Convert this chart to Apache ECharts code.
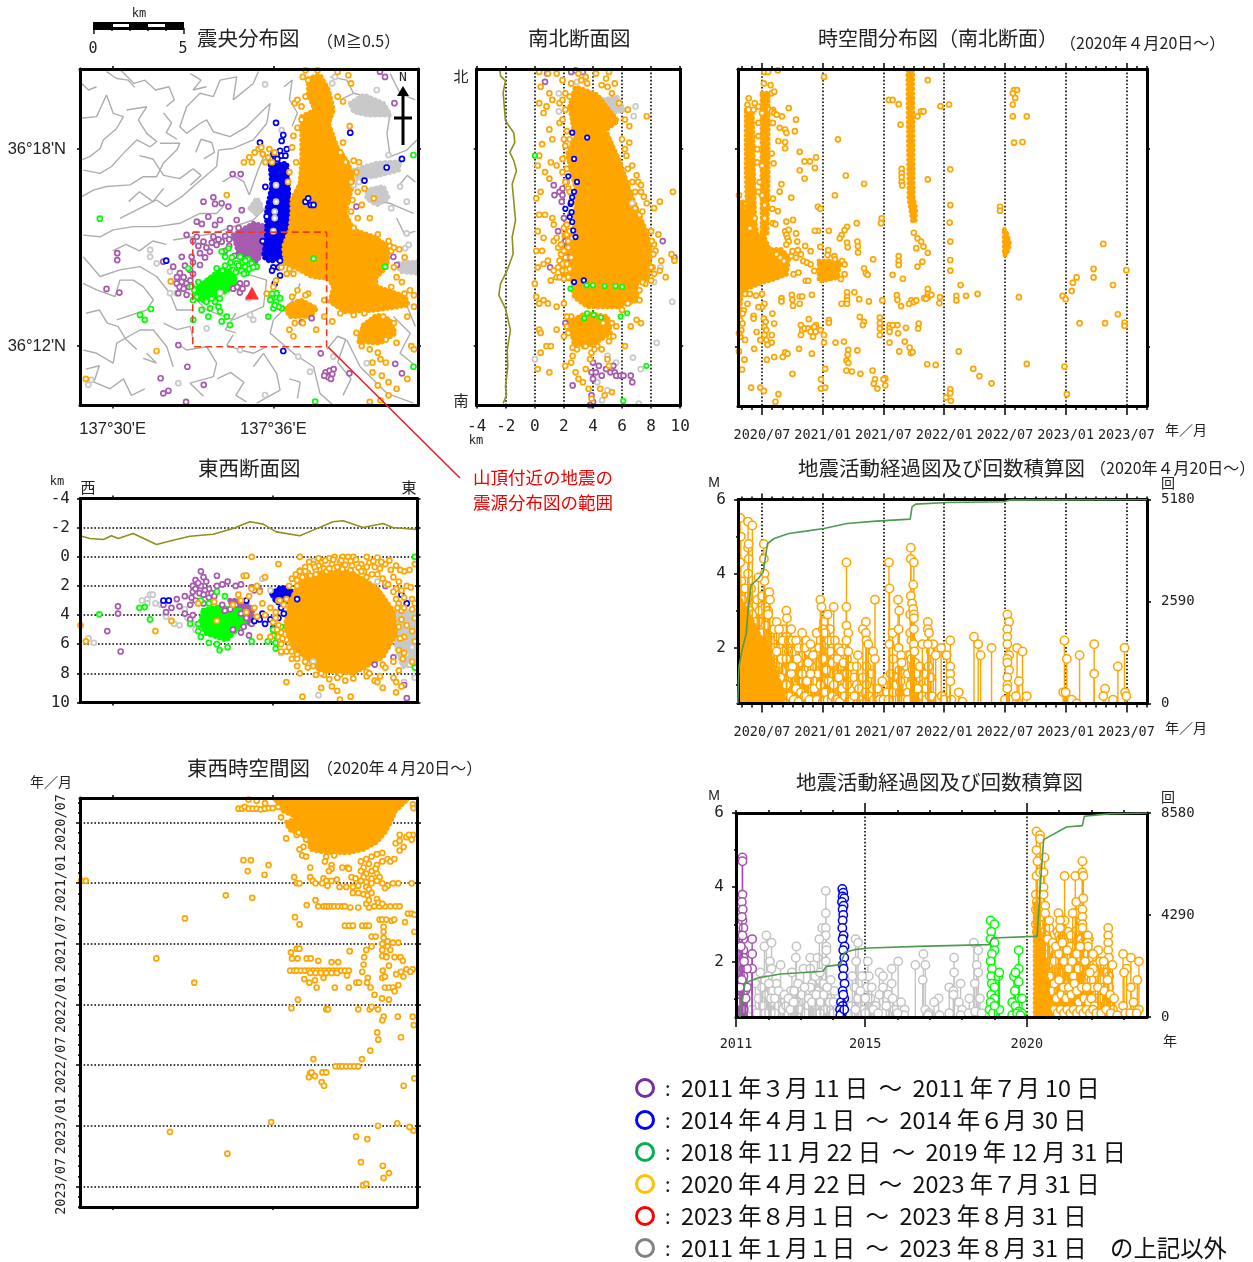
<!DOCTYPE html>
<html><head><meta charset="utf-8">
<style>html,body{margin:0;padding:0;background:#fff}#c{width:1253px;height:1262px}</style>
<script src="https://cdn.jsdelivr.net/npm/echarts@6/dist/echarts.min.js"></script>
</head><body><div id="c"></div>
<script>
// ---------- shared tick values ----------
const halfYears=[2020.5,2021,2021.5,2022,2022.5,2023,2023.5];
const sectionDepths=[-4,-2,0,2,4,6,8,10];
const lonTicks=[30,36];
const latTicks=[12,18];
const magnitudes=[2,4,6];
const minorMagnitudes=[1,3,5];
const countTicks1=[0,2590,5180];
const countTicks2=[0,4290,8580];
const yearLabels=[2011,2015,2020];
const allYears=[2011,2012,2013,2014,2015,2016,2017,2018,2019,2020,2021,2022,2023];

// ---------- map (lon minutes past 137deg, lat minutes past 36deg) ----------
const contours=[
[[29.77,20.36],[30.15,20.15],[30.58,20.1],[30.83,19.88]],
[[28.84,18.94],[29.4,18.99],[29.77,19.65],[30.02,19.09],[30.4,18.99],[30.15,18.63],[29.65,18.28],[29.53,18.02],[29.15,17.77],[28.84,17.67]],
[[30.52,19.19],[31.27,19.29],[30.96,18.89],[31.27,18.48],[31.64,18.23],[31.4,18.07],[30.9,18.28],[30.4,17.87],[29.96,17.47],[29.53,17.26],[28.9,17.36]],
[[28.84,16.55],[29.28,16.75],[29.77,16.86],[30.65,16.91],[31.14,17.16],[31.64,17.16],[31.89,17.57],[32.39,17.97],[32.51,18.18],[31.77,18.18]],
[[30.27,15.89],[31.14,16.25],[31.64,16.45],[32.0,16.25],[32.58,16.55],[33.01,16.86],[33.88,17.47],[33.95,17.97],[34.5,18.02],[35.25,18.28],[35.75,18.78],[35.88,19.39],[35.5,19.09],[35.0,18.68],[34.38,18.38],[33.76,18.53],[33.51,18.89],[33.26,18.78],[32.76,18.48],[32.51,18.68],[32.76,19.29],[33.26,19.7],[33.76,19.6],[34.01,20.1],[34.63,20.2],[34.5,19.5],[35.25,20.0],[35.44,20.36]],
[[28.9,15.38],[29.53,15.33],[30.02,15.54],[30.77,15.64],[31.64,15.64],[32.51,15.74],[33.26,16.04],[33.88,16.04],[34.13,16.25]],
[[28.9,13.91],[29.4,13.71],[30.09,13.51],[30.27,14.01],[30.77,14.01],[31.14,13.81],[31.52,13.41],[31.27,13.1],[30.15,12.8]],
[[28.9,14.72],[29.53,14.12],[30.27,14.32],[31.02,14.42],[31.64,14.12],[32.14,13.61],[32.39,13.1],[33.01,13.1]],
[[28.9,11.88],[29.4,11.78],[30.02,11.48],[30.15,12.09],[31.02,12.49],[31.52,12.49],[32.02,11.98],[32.26,11.37]],
[[31.14,11.63],[31.64,11.48],[31.27,11.78]],
[[34.5,12.34],[34.26,12.03],[34.76,11.88],[35.25,11.78],[35.75,11.98]],
[[32.39,12.09],[32.76,11.88],[33.51,11.98],[33.88,11.48],[33.76,11.07],[32.89,10.87],[33.39,10.47]],
[[35.25,11.37],[35.63,11.78],[36.12,11.17],[36.25,10.66],[35.38,10.26]],
[[37.0,13.91],[36.75,13.41],[36.0,12.8],[35.88,12.39],[36.75,11.78],[37.5,11.37],[37.74,10.56],[38.24,10.2]],
[[38.99,19.7],[39.49,19.6],[40.36,19.09],[40.24,18.48],[40.36,17.77],[40.98,17.97],[41.36,18.28]],
[[39.49,16.45],[40.36,16.35],[41.23,16.04]],
[[32.26,15.23],[33.01,15.33],[33.76,15.43],[35.25,15.84],[35.75,16.25]],
[[38.12,20.2],[38.74,20.1],[38.99,19.7],[38.49,19.5]],
[[40.36,20.3],[40.73,19.7],[41.29,19.5]],
[[38.74,12.19],[39.24,11.37],[40.24,10.56],[41.23,10.26]],
[[40.48,12.9],[41.11,12.39],[40.73,11.78],[41.36,11.37]],
[[34.5,12.8],[35.63,13.2],[35.75,14.01],[35.0,14.2]],
[[32.89,13.61],[33.51,13.1],[34.5,12.8]],
[[28.84,20.0],[29.1,19.8],[29.4,19.9]],
[[30.3,20.4],[30.8,20.0],[31.2,20.1],[31.6,19.8],[32.1,19.9],[32.3,19.5],[32.0,19.3]],
[[32.9,20.3],[33.3,20.1],[33.0,19.8],[33.5,19.9]],
[[31.9,19.1],[32.2,18.8],[32.0,18.5],[32.4,18.3]],
[[31.0,17.8],[31.5,17.7],[31.9,17.2],[32.5,17.1],[33.0,17.4],[33.3,17.2],[32.9,16.9]],
[[30.6,16.4],[31.0,16.7],[31.5,16.4],[31.9,16.8]],
[[33.4,17.7],[33.8,17.9],[33.7,18.2],[33.3,18.3],[33.1,17.9]],
[[34.1,17.0],[34.5,17.2],[34.9,17.0],[35.1,16.6],[35.4,17.3],[35.7,17.9]],
[[30.0,14.9],[30.5,15.1],[31.0,14.9],[31.5,15.2],[32.0,15.1]],
[[29.0,13.0],[29.5,13.1],[29.8,12.7],[30.2,12.6],[30.5,12.2],[30.9,11.9]],
[[29.0,11.3],[29.5,11.4],[29.3,10.9],[29.9,10.7],[30.4,11.0],[30.7,10.5],[31.2,10.7]],
[[31.9,12.7],[32.4,12.5],[32.9,12.6],[33.0,12.2]],
[[34.6,13.0],[34.2,12.5],[34.6,12.4]],
[[33.9,11.0],[34.4,11.2],[34.9,10.9],[34.6,10.5],[35.0,10.3]],
[[36.6,11.0],[37.0,10.9],[36.9,10.4]],
[[38.0,11.9],[38.4,12.3],[38.7,12.2],[38.4,11.5],[38.9,11.0],[38.6,10.5]],
[[40.5,13.3],[41.0,13.2],[41.3,12.6]],
[[40.7,16.9],[41.0,17.2],[41.3,17.0]],
[[40.6,15.9],[40.9,15.4],[41.3,15.5]],
[[36.4,19.9],[36.7,20.1],[36.6,19.5],[36.9,19.1],[36.7,18.7]]
];
const mapOrangeCore=[[37.31,20.15],[37.74,20.26],[38.06,19.8],[38.24,19.19],[38.06,18.78],[38.37,18.07],[38.8,17.57],[38.99,17.01],[38.8,16.45],[38.68,16.04],[38.99,15.54],[39.74,15.33],[40.3,15.03],[40.24,14.42],[39.8,14.06],[39.86,13.81],[40.92,13.51],[41.04,13.25],[39.86,13.1],[38.68,13.05],[38.12,13.35],[38.24,13.81],[38.06,14.06],[37.43,14.12],[36.87,14.37],[36.44,14.52],[36.38,15.03],[36.62,15.54],[36.69,16.04],[36.69,16.45],[37.0,16.96],[37.06,17.67],[37.06,18.38],[37.06,18.99],[37.56,19.19],[37.31,19.65]];
const mapOrangeSouth=[[39.36,12.64],[39.86,12.95],[40.36,12.8],[40.55,12.39],[39.98,12.09],[39.18,12.14]];
const mapOrangeMid=[[36.44,13.15],[37.0,13.41],[37.62,13.15],[37.37,12.9],[36.62,12.9]];
const mapBlueCore=[[35.88,17.52],[36.5,17.57],[36.56,16.86],[36.62,15.94],[36.5,15.23],[36.37,14.72],[35.88,14.57],[35.63,14.72],[35.75,15.43],[35.75,16.14],[35.94,16.86]];
const mapPurpleCore=[[34.5,15.38],[35.25,15.74],[35.75,15.64],[35.69,15.03],[35.38,14.57],[34.76,14.62],[34.63,15.03]];
const mapGreenCore=[[33.1,13.75],[33.5,14.0],[33.9,14.25],[34.5,14.3],[34.6,13.95],[34.3,13.7],[33.95,13.55],[33.5,13.35],[33.1,13.45]];
const mapGrayPatches=[
[[38.87,19.39],[39.37,19.65],[40.11,19.39],[40.36,19.04],[39.49,19.04],[38.99,19.14]],
[[38.99,17.36],[39.86,17.57],[40.73,17.62],[40.67,17.36],[39.74,17.16],[39.12,17.16]],
[[35.13,16.2],[35.38,16.5],[35.57,16.25],[35.38,16.0]],
[[39.49,16.75],[40.11,16.86],[40.3,16.5],[39.86,16.3],[39.49,16.5]],
[[40.67,14.52],[41.4,14.57],[41.4,14.22],[40.73,14.27]]
];
const mapGray=[[35.69,19.97],[39.86,19.8],[36.31,18.58],[40.3,17.82],[40.73,16.86],[40.98,16.4],[32.14,14.27],[31.64,14.52],[31.4,14.72],[31.4,14.93],[32.14,13.61],[32.39,13.61],[35.07,13.46],[35.13,12.95],[35.25,12.8],[34.76,11.88],[33.51,12.54],[34.01,13.61],[29.2,10.97],[29.09,10.82],[32.45,10.87],[35.69,10.51],[36.93,11.68],[37.37,11.22],[38.24,11.68],[39.49,11.48],[40.98,15.43],[40.92,14.98],[41.05,15.08],[38.2,20.0],[38.3,20.2],[39.0,16.9],[39.2,17.0],[40.4,16.2],[36.1,16.4],[36.05,15.9],[36.1,16.9],[36.0,15.5],[36.05,16.1]];
const mapPurple=[[34.48,17.24],[34.78,17.24],[33.39,16.4],[33.76,16.53],[33.82,16.33],[34.07,16.35],[34.32,16.25],[33.57,15.94],[33.14,15.79],[33.33,15.72],[33.82,15.69],[34.01,15.84],[34.63,15.84],[34.82,16.14],[34.38,15.59],[32.76,15.39],[33.14,15.33],[33.39,15.18],[33.76,15.33],[34.07,15.18],[33.26,14.83],[33.63,14.88],[33.88,15.08],[32.95,14.72],[32.58,14.72],[31.89,14.57],[32.26,14.42],[32.51,14.22],[33.26,14.47],[32.89,14.32],[32.58,13.96],[32.39,13.91],[32.76,13.91],[32.45,13.61],[32.76,13.56],[30.17,14.83],[30.17,14.62],[29.77,13.74],[30.25,13.63],[32.45,12.03],[32.79,11.37],[31.79,11.02],[33.4,10.82],[31.89,10.56],[32.08,10.64],[32.74,10.3],[34.75,13.91],[35.0,13.91],[34.75,13.63],[37.06,12.72],[37.43,12.85],[37.77,11.78],[38.84,11.17],[37.95,11.2],[38.1,11.25],[38.2,11.15],[38.05,11.05],[38.15,11.0],[37.9,11.1],[38.25,11.3],[40.48,14.72],[40.61,14.47],[39.98,20.36],[40.17,20.2],[40.52,19.4],[40.55,11.46],[40.8,11.17],[39.1,16.25],[33.0,15.2],[33.2,15.05],[33.5,15.0],[33.7,15.15],[33.95,15.25],[34.2,15.35],[34.35,15.05],[34.2,14.9],[33.45,14.7],[33.0,14.55],[32.7,14.45],[32.4,14.1],[32.65,14.1],[32.9,14.0],[33.0,14.2],[32.5,13.8],[32.65,13.75],[32.85,13.8],[34.5,13.75],[34.65,13.8],[34.85,13.75],[34.55,14.75],[34.35,15.25],[34.7,15.6]];
const mapBlue=[[36.1,18.8],[36.37,18.43],[36.31,18.25],[35.5,18.2],[36.5,18.0],[36.25,17.95],[38.87,18.5],[40.8,17.7],[40.23,17.44],[39.4,17.04],[36.0,14.4],[36.2,14.4],[36.25,14.15],[36.05,13.9],[36.37,11.85],[32.0,14.6],[36.0,17.85],[36.15,17.7],[36.3,17.8],[36.45,17.8],[35.9,17.7],[35.7,16.85],[35.75,15.95],[35.6,15.2],[36.25,14.6],[35.95,14.3],[37.2,16.4],[37.4,16.3],[37.3,16.5],[37.5,16.3]];
const mapGreen=[[29.52,15.88],[31.02,12.95],[31.2,12.8],[31.43,13.13],[33.01,12.8],[33.32,13.1],[33.64,13.15],[33.95,13.2],[33.57,12.9],[34.07,12.75],[34.26,12.9],[34.38,12.64],[33.82,13.35],[34.01,13.05],[32.82,14.37],[32.95,13.81],[33.14,13.5],[33.88,14.37],[34.32,14.98],[34.07,14.88],[34.2,14.72],[34.63,14.52],[34.94,14.42],[35.19,14.52],[35.38,14.42],[34.76,14.72],[35.0,14.22],[34.5,14.32],[35.94,13.51],[36.12,13.61],[35.88,13.41],[36.25,13.46],[36.0,13.15],[36.31,13.15],[35.81,12.9],[41.23,17.82],[37.56,10.31],[37.5,14.67],[40.17,14.42],[41.23,11.37],[34.4,14.55],[34.3,14.4],[34.85,14.55],[35.05,14.65],[34.2,14.45],[34.1,14.3],[34.45,14.7],[34.6,14.25],[34.8,14.3],[36.1,13.35],[36.2,13.2],[33.2,13.95],[33.05,13.7],[33.0,13.4],[33.5,13.35],[33.7,13.45],[34.0,13.45],[34.7,14.45],[34.9,14.2],[35.1,14.35],[35.25,14.4],[34.95,14.6],[36.05,13.25],[35.95,13.6]];
const mapOrange=[[34.9,17.6],[35.1,17.75],[35.3,17.9],[35.45,18.0],[35.6,17.85],[35.55,18.05],[35.8,17.75],[35.95,17.6],[36.05,17.9],[35.7,17.6],[35.2,17.6],[35.85,18.0],[36.8,19.4],[36.9,19.5],[37.05,19.3],[37.2,19.6],[37.3,20.1],[37.1,20.2],[38.4,20.35],[38.8,20.25],[38.9,20.0],[38.4,19.6],[38.6,19.45],[37.05,18.9],[36.9,18.65],[36.75,18.4],[36.7,18.05],[36.85,17.6],[36.6,17.3],[36.55,17.0],[38.85,18.7],[38.6,18.2],[39.2,17.6],[39.1,17.3],[39.4,16.8],[39.75,16.5],[39.3,16.3],[39.6,15.9],[39.15,15.9],[38.9,16.1],[39.0,15.6],[40.35,15.05],[40.7,14.95],[40.9,14.7],[40.5,14.4],[40.8,13.95],[40.4,13.8],[41.1,13.7],[41.25,13.55],[41.25,13.2],[40.1,12.9],[41.0,12.9],[40.5,12.7],[40.2,12.2],[39.9,11.8],[39.7,11.5],[40.2,11.5],[40.05,11.1],[39.9,10.8],[40.3,10.9],[40.6,10.7],[40.3,10.5],[41.0,11.0],[40.6,12.1],[41.15,12.0],[40.0,10.35],[39.6,10.3],[41.25,11.9],[36.0,13.8],[35.75,13.6],[36.9,13.7],[36.7,13.5],[37.3,13.6],[36.8,12.7],[36.6,12.5],[36.75,12.3],[37.1,12.7],[37.6,12.5],[38.2,12.75],[37.9,12.9],[34.26,16.6],[31.64,11.85],[29.0,11.0],[32.17,13.97],[36.1,14.0],[38.5,17.9],[38.7,17.6],[39.0,17.65],[38.9,17.0],[39.15,16.7],[38.95,16.45],[40.4,14.9],[40.5,15.0],[40.3,15.2],[39.9,15.4],[40.6,14.1],[40.9,13.6],[39.4,13.0],[39.0,12.95],[38.5,13.0],[37.9,13.4],[37.2,13.55],[36.5,14.2],[36.3,14.4],[36.75,14.2],[36.6,14.35],[39.1,12.4],[39.3,12.0],[39.6,11.9],[40.0,11.6],[39.7,11.2],[37.2,20.4],[37.65,20.4]];

// ---------- north-south section (depth km, lat minutes) ----------
const nsTopo=[[-2.41,20.43],[-2.36,20.23],[-2.02,20.08],[-2.18,19.72],[-2.02,18.86],[-1.45,18.5],[-1.38,18.2],[-1.72,17.9],[-1.45,17.65],[-1.26,17.34],[-1.56,16.94],[-1.45,16.43],[-1.33,15.83],[-1.56,15.32],[-1.49,14.81],[-1.9,14.31],[-2.36,13.9],[-2.48,13.55],[-2.02,13.14],[-1.68,12.49],[-1.9,11.88],[-1.86,11.37],[-2.02,10.77],[-1.95,10.51],[-2.18,10.26]];
const nsCore=[[2.91,18.46],[4.06,18.66],[4.98,18.46],[5.9,17.55],[6.59,16.64],[7.73,15.42],[7.96,14.81],[7.73,14.0],[5.21,13.9],[2.69,14.0],[2.69,15.42],[2.91,16.64],[2.23,17.85]];
const nsWest=[[2.0,15.4],[2.7,15.6],[2.7,14.0],[1.9,14.1]];
const nsBand=[[2.6,13.95],[7.0,13.95],[7.05,13.4],[5.7,13.2],[3.6,13.2],[2.7,13.5]];
const nsLow=[[2.4,12.75],[3.5,13.0],[5.0,12.9],[5.2,12.4],[4.0,12.05],[2.7,12.05]];
const nsUp=[[2.4,19.3],[2.8,19.9],[4.3,19.65],[5.7,18.85],[4.75,18.55],[2.7,18.55]];
const nsGrayPatch=[[4.06,19.47],[5.67,19.57],[6.13,19.17],[4.52,19.07]];
const nsGray=[[1.65,19.15],[1.65,19.7],[6.93,19.3],[6.8,19.0],[6.7,16.35],[8.65,14.4],[9.45,13.35],[8.38,12.1],[6.75,11.65],[5.6,11.5],[5.0,11.7],[0,11.6],[7.28,11.3],[4.63,10.35],[5.0,10.65],[7.16,10.25],[4.3,10.9],[2.9,20.05],[8.2,13.95]];
const nsPurple=[[0.85,20.3],[0.7,20.05],[2.5,20.35],[2.8,20.4],[3.3,20.35],[1.3,16.9],[1.35,16.6],[1.7,16.7],[1.9,16.8],[1.9,16.6],[1.85,16.4],[2.0,15.9],[1.6,15.5],[2.1,15.2],[2.2,15.0],[2.3,14.7],[1.05,14.4],[2.1,12.7],[3.9,11.2],[4.0,11.0],[4.2,11.2],[4.4,11.4],[4.6,11.1],[4.9,11.3],[5.2,11.2],[5.5,11.2],[5.6,11.1],[5.9,11.1],[6.1,11.1],[6.6,11.1],[6.7,10.9],[2.6,10.8],[3.9,10.5],[4.0,10.3],[3.8,10.2],[8.8,15.2],[9.6,14.7],[4.0,11.5],[5.4,11.4]];
const nsBlue=[[2.3,17.17],[2.1,16.18],[2.46,16.33],[2.53,16.08],[2.4,15.93],[2.57,15.78],[2.5,16.38],[2.64,15.52],[2.8,15.32],[2.57,18.5],[3.6,18.35],[2.7,17.7],[2.9,17.0],[2.7,16.7],[3.37,14.0],[2.7,13.95],[2.57,16.53]];
const nsGreen=[[0,17.8],[2.45,13.75],[3.55,13.85],[4.0,13.85],[4.8,13.83],[6.0,13.8],[5.55,13.83],[3.4,12.85],[3.6,13.0],[4.05,12.95],[4.55,12.87],[5.9,12.9],[6.35,13.0],[7.67,11.4],[6.08,10.33]];
const nsOrange=[[0.9,20.3],[0.3,20.35],[1.5,20.3],[0.4,19.9],[1.0,19.7],[0.3,19.4],[0.8,19.3],[1.2,19.5],[1.7,19.4],[0.6,19.1],[1.7,18.8],[1.0,18.6],[1.2,18.3],[0.5,18.15],[0.3,17.8],[0.2,17.5],[0.7,17.3],[1.1,17.6],[1.5,17.5],[1.0,17.1],[0.4,16.7],[0.1,16.5],[0.3,16.0],[0.7,16.0],[1.2,15.9],[0.2,15.5],[0.6,15.3],[1.3,15.7],[1.3,15.2],[1.6,15.0],[0.1,14.9],[0.5,14.9],[0.9,14.6],[0.2,14.4],[0.6,14.5],[1.5,14.1],[1.9,14.3],[2.1,14.7],[1.3,14.3],[1.1,14.0],[0.0,13.9],[0.1,13.5],[0.3,13.3],[0.6,13.4],[0.9,13.3],[1.5,13.2],[2.0,13.3],[0.3,12.5],[0.4,12.4],[1.5,12.5],[2.3,12.4],[2.0,12.3],[0.8,12.0],[1.1,12.0],[0.4,11.8],[1.0,11.2],[0.2,11.3],[2.1,11.4],[2.6,11.7],[2.5,11.5],[2.8,11.2],[3.3,10.9],[3.7,10.7],[4.5,10.7],[4.8,10.5],[3.9,10.4],[5.3,10.6],[5.1,11.4],[5.0,11.6],[4.6,11.9],[3.5,11.3],[3.0,11.0],[3.8,11.6],[4.3,12.0],[4.7,12.7],[7.3,16.7],[7.7,16.35],[8.2,16.2],[8.6,16.4],[6.9,16.2],[7.2,16.0],[8.0,15.5],[8.5,15.4],[9.5,16.7],[9.4,14.8],[9.6,14.6],[8.3,14.9],[8.6,14.3],[9.0,14.1],[8.2,14.2],[8.7,14.6],[8.0,14.0],[6.7,17.0],[6.4,17.4],[6.2,18.0],[6.0,18.3],[6.5,18.2],[6.4,19.2],[7.7,19.0],[7.6,13.9],[7.2,13.4],[7.0,12.8],[7.3,12.7],[6.6,12.6],[6.2,12.0],[2.1,19.7],[1.9,20.1],[2.4,18.3],[2.1,18.1],[1.9,17.7],[1.9,17.3],[2.2,17.0],[2.3,16.8],[2.0,15.6],[2.2,15.4],[2.3,15.2],[1.8,14.8],[2.2,14.3],[2.4,14.1],[3.0,20.3],[3.5,20.2],[4.2,20.3],[5.1,20.35],[5.5,20.0],[5.0,19.9],[3.4,12.0],[2.6,11.95],[2.9,11.9],[3.9,11.8],[4.1,11.9],[8.2,15.1],[8.1,14.4],[7.1,17.0],[6.9,16.7],[7.4,16.1]];
const nsOrangeFringe=[[1.5,15.3],[1.8,15.1],[2.0,14.9],[2.3,15.0],[2.5,14.7],[1.7,14.6],[1.9,14.5],[2.2,14.5],[1.6,14.4],[2.4,14.35],[1.7,14.1],[2.0,14.05],[2.3,14.1],[2.55,15.3],[2.4,15.5],[2.2,15.7],[2.45,16.0],[2.5,16.4],[2.4,16.7],[2.1,17.0],[2.2,17.4],[2.0,18.3],[2.2,18.55],[1.9,18.9],[2.1,19.2],[1.9,19.5],[2.4,19.6],[2.5,20.0],[3.2,20.1],[3.6,20.0],[4.6,19.95],[4.9,20.15],[5.3,19.7],[5.8,19.4],[6.2,18.9],[6.5,18.7],[6.3,17.8],[6.7,17.5],[7.0,17.2],[7.3,16.9],[7.5,16.55],[3.5,12.0],[5.3,12.7],[5.6,12.6],[5.4,12.3],[5.1,12.15],[2.5,12.9],[2.2,12.9],[2.2,12.6],[6.0,13.1],[6.4,13.3],[7.2,13.7],[7.4,13.95],[8.0,14.4],[8.15,14.8],[8.05,15.2]];

// ---------- east-west section (lon minutes, depth km) ----------
const ewTopo=[[28.78,-1.44],[29.15,-1.25],[29.65,-1.19],[29.96,-1.44],[30.21,-1.25],[30.77,-1.6],[31.64,-0.84],[32.26,-1.14],[32.89,-1.41],[33.76,-1.55],[34.5,-1.94],[35.13,-2.4],[35.63,-2.24],[36.12,-1.71],[37.0,-1.44],[37.5,-1.83],[38.24,-2.4],[38.62,-2.47],[39.36,-2.01],[40.11,-2.28],[40.48,-2.01],[41.36,-1.87]];
const ewCore=[[37,1.7],[37.74,1.1],[38.87,1.0],[39.86,2.1],[40.48,3.7],[40.6,5.27],[40.11,6.87],[38.99,8.01],[37.74,7.78],[36.75,6.18],[36.44,4.81],[36.62,3.21]];
const ewGrayPatch=[[40.6,3.89],[41.4,3.66],[41.4,7.33],[40.85,7.55],[40.6,6.18]];
const ewBlueCore=[[35.94,2.52],[36.31,2.06],[36.75,2.41],[36.62,3.09],[36.12,3.16]];
const ewGreenCore=[[33.39,3.66],[33.88,3.44],[34.76,3.66],[35.0,4.35],[34.63,5.04],[34.26,5.72],[33.51,5.27],[33.26,4.58]];
const ewPurpleCore=[[34.38,2.98],[34.88,2.98],[35.25,3.66],[35.13,4.58],[34.76,4.35],[34.5,3.66]];
const ewGray=[[31.3,2.9],[31.4,2.6],[31.5,2.6],[31.3,3.2],[31.6,3.2],[31.8,3.3],[31.1,3.0],[32.0,4.1],[32.3,4.6],[32.5,4.7],[32.8,4.2],[33.0,4.6],[33.1,5.0],[32.7,3.6],[35.6,1.5],[35.9,2.3],[41.0,6.7],[41.2,6.2],[41.1,7.4],[37.7,9.5],[40.9,8.6],[41.3,8.3],[29.1,5.6],[29.3,5.9],[37.5,0.3],[39.9,1.7],[37.5,7.2],[36.3,6.6]];
const ewPurple=[[33.3,1.0],[33.4,1.4],[33.5,1.7],[33.9,1.3],[33.1,1.6],[33.0,2.0],[33.3,2.0],[33.6,2.2],[33.9,2.0],[34.1,1.9],[34.3,1.7],[34.6,2.0],[34.8,1.9],[33.0,2.4],[32.7,2.7],[32.4,2.9],[32.1,3.0],[31.9,3.3],[32.2,3.5],[32.0,3.8],[32.5,3.4],[32.9,3.3],[33.1,3.0],[33.4,3.2],[33.6,2.8],[32.7,3.9],[32.9,4.3],[33.0,4.0],[30.2,3.4],[30.2,3.9],[29.8,5.1],[30.3,6.5],[41.0,9.7],[40.9,8.8],[35.0,1.3],[35.2,2.1],[34.1,3.3],[34.4,3.6],[34.6,3.3],[34.8,3.9],[35.0,4.2],[35.2,4.6],[34.9,4.8],[34.8,5.2],[35.1,5.4],[34.5,5.0],[34.2,3.7],[39.8,7.4],[40.5,6.9],[35.3,2.3],[35.5,2.3],[40.2,2.0],[33.1,2.2],[33.25,2.5],[33.45,2.3],[33.7,2.5],[33.2,1.8],[33.4,2.6],[32.95,2.8],[33.8,2.7]];
const ewBlue=[[31.9,3.0],[32.1,3.0],[35.0,3.0],[35.6,3.9],[35.3,4.4],[35.5,4.3],[36.3,3.5],[36.4,3.9],[36.9,2.9],[36.0,4.9],[36.2,4.2],[40.8,2.6],[41.0,3.2],[35.9,4.3],[35.7,4.6]];
const ewGreen=[[29.5,3.95],[31.0,3.5],[31.2,3.45],[31.4,4.3],[33.2,4.6],[32.9,4.6],[33.2,5.1],[33.3,5.5],[33.6,5.9],[33.9,6.0],[34.0,6.4],[34.3,6.2],[33.9,2.4],[33.6,3.2],[35.2,5.8],[35.8,5.8],[36.0,5.7],[36.1,6.3],[36.2,5.2],[36.0,5.0],[36.3,4.8],[41.3,0.0],[41.3,7.6],[34.2,2.7],[33.3,3.0],[36.0,5.4],[36.1,5.9]];
const ewOrange=[[37.5,0.5],[37.8,0.4],[38.1,0.1],[38.3,0.0],[38.6,0.0],[38.8,0.0],[39.0,0.0],[39.1,0.2],[38.9,0.3],[38.5,0.4],[38.2,0.5],[37.7,0.6],[37.9,0.8],[37.6,0.9],[37.3,1.1],[37.1,1.4],[37.4,1.3],[39.3,0.5],[39.5,0.0],[39.6,0.4],[39.8,0.7],[40.0,0.8],[39.9,1.2],[40.2,0.5],[40.4,0.9],[40.5,1.4],[40.7,1.7],[40.9,1.0],[41.0,2.0],[40.8,2.3],[41.15,2.1],[41.2,2.9],[41.3,3.2],[40.9,2.8],[40.7,3.2],[40.8,3.7],[41.2,3.6],[41.3,4.2],[40.8,4.3],[41.0,4.7],[41.2,5.1],[41.3,5.8],[41.2,7.2],[41.3,0.5],[41.1,0.9],[37.0,0.95],[36.9,2.0],[36.2,5.5],[36.3,6.0],[36.5,6.5],[36.7,7.0],[36.3,6.5],[36.9,7.5],[37.2,7.2],[37.5,7.5],[37.6,8.1],[37.9,8.1],[38.1,8.4],[38.5,8.1],[38.7,8.5],[38.2,8.9],[38.4,9.2],[37.8,9.0],[37.1,9.6],[38.5,9.8],[38.9,9.6],[36.5,8.6],[40.5,8.3],[40.6,8.6],[39.8,8.5],[40.0,8.2],[39.5,8.2],[39.9,8.6],[40.1,9.0],[40.8,8.9],[40.6,9.3],[40.7,7.8],[40.85,7.0],[35.9,5.5],[35.5,5.5],[37.0,8.0],[36.9,6.7],[40.9,6.6],[40.9,5.5],[34.9,1.3],[35.0,1.3],[35.2,0.0],[36.2,0.5],[37.0,0.0],[35.7,1.4],[35.2,2.2],[35.4,2.0],[32.2,4.4],[31.6,5.1],[28.8,4.7],[29.0,5.8],[34.5,3.3],[34.8,3.0],[35.1,2.7],[35.3,3.5],[35.6,3.2],[35.9,3.5],[36.1,3.8],[35.0,3.8],[34.7,2.6],[35.4,4.1],[35.7,4.0],[36.0,4.5],[36.2,4.7],[35.5,2.4],[33.8,3.1],[33.2,3.2],[33.9,4.4],[36.2,3.0],[36.4,3.3],[36.5,2.9],[36.9,1.6],[40.9,3.5],[40.6,2.2],[40.2,1.8],[39.4,1.0],[38.4,0.7],[38.0,1.0],[37.6,1.2],[38.9,0.9],[39.5,1.4],[40.1,7.4],[39.5,7.9],[36.3,5.2],[36.5,5.7],[36.7,6.5]];
const ewOrangeArc=[[37.0,1.0],[37.2,0.7],[37.35,0.35],[37.7,0.1],[37.95,0.25],[38.25,0.2],[38.55,0.25],[38.7,0.55],[38.95,0.6],[39.2,0.75],[39.5,0.7],[39.75,0.3],[39.9,0.05],[40.05,0.35],[40.35,0.25],[40.6,0.6],[40.75,0.9],[36.6,2.0],[36.7,1.5],[36.85,1.2],[37.2,1.0],[37.55,0.7],[38.1,0.8],[38.6,0.85],[39.3,1.0],[39.7,1.2],[40.1,1.5],[40.3,1.9],[40.5,2.4],[40.6,2.9],[40.65,3.5],[36.25,3.0],[36.1,4.2],[36.15,5.0],[36.35,5.6],[36.6,6.2],[36.9,7.0],[37.3,7.6],[37.8,8.0],[38.4,8.3],[39.0,8.35],[39.6,8.0],[40.2,7.6],[40.5,7.2],[40.7,6.4],[40.75,5.6],[40.7,4.8]];

// ---------- north-south space-time (decimal year, lat minutes) ----------
const nstCoreA=[[2020.302,16.4],[2020.34,16.4],[2020.36,16.0],[2020.44,15.8],[2020.46,15.4],[2020.52,15.3],[2020.56,14.95],[2020.66,14.95],[2020.72,14.7],[2020.7,14.2],[2020.6,14.05],[2020.5,13.95],[2020.4,13.8],[2020.33,13.7],[2020.32,13.2],[2020.302,13.1]];
const nstColumnB=[[2020.37,19.2],[2020.42,19.2],[2020.43,17.3],[2020.44,15.8],[2020.38,15.8],[2020.37,17.3]];
const nstColumnC=[[2020.5,19.7],[2020.55,19.7],[2020.55,17.0],[2020.54,15.4],[2020.5,15.4],[2020.5,17.0]];
const nstColumnD=[[2021.70,20.4],[2021.74,20.4],[2021.745,16.5],[2021.765,16.2],[2021.76,15.8],[2021.74,15.8],[2021.71,16.5]];
const nstBlockE=[[2022.495,15.55],[2022.51,15.5],[2022.54,15.1],[2022.51,14.78],[2022.495,14.78]];
const nstBlockF=[[2020.97,14.6],[2021.06,14.6],[2021.14,14.55],[2021.12,14.1],[2021.0,14.0],[2020.97,14.0]];
const nstOrange=[[2020.52,20.35],[2020.55,20.35],[2020.63,20.4],[2020.515,20.0],[2020.57,19.95],[2020.58,19.7],[2020.6,19.75],[2020.39,19.55],[2020.72,19.25],[2020.78,18.9],[2020.77,18.55],[2020.59,18.8],[2020.665,19.0],[2020.59,19.2],[2020.645,18.65],[2020.69,18.6],[2020.7,18.5],[2020.635,18.25],[2020.69,18.22],[2020.69,18.03],[2020.58,17.87],[2020.595,17.57],[2020.81,17.92],[2020.85,17.63],[2020.895,17.63],[2020.945,17.75],[2020.81,17.36],[2020.935,17.43],[2020.85,17.11],[2020.66,16.94],[2020.645,16.71],[2020.74,16.53],[2020.59,16.5],[2020.585,16.19],[2020.63,16.12],[2020.96,16.25],[2020.98,16.19],[2020.7,15.8],[2020.755,15.85],[2020.59,15.75],[2020.61,15.72],[2020.69,15.5],[2020.7,15.4],[2020.71,15.3],[2020.72,15.2],[2020.7,15.1],[2020.72,15.55],[2020.78,15.44],[2020.79,15.19],[2020.795,14.93],[2020.855,15.06],[2020.96,15.52],[2020.935,15.52],[2021.05,15.52],[2020.98,15.03],[2021.2,15.64],[2021.18,15.54],[2021.155,15.39],[2021.14,15.29],[2021.2,15.16],[2021.205,15.02],[2021.285,15.19],[2021.29,15.05],[2021.29,14.86],[2021.28,15.75],[2021.045,14.93],[2021.04,14.78],[2021.095,14.75],[2021.415,14.65],[2021.34,14.38],[2021.355,14.23],[2021.37,14.18],[2021.575,14.18],[2021.66,14.06],[2021.625,14.75],[2021.625,14.6],[2021.625,14.48],[2021.78,14.43],[2021.82,14.58],[2021.865,14.85],[2021.78,15.29],[2021.81,15.19],[2021.83,15.04],[2021.77,14.99],[2021.75,15.46],[2022.05,15.19],[2022.05,14.63],[2022.05,14.31],[2022.135,13.87],[2022.045,15.77],[2022.05,16.3],[2022.05,17.39],[2022.04,19.36],[2021.97,19.31],[2021.865,20.1],[2021.865,17.08],[2021.65,17.4],[2021.65,17.27],[2021.65,17.15],[2021.65,17.0],[2021.655,16.9],[2021.545,19.5],[2021.575,19.5],[2021.625,19.37],[2021.64,18.75],[2021.78,19.0],[2021.81,19.15],[2021.83,19.15],[2021.485,15.9],[2021.48,15.75],[2021.125,18.3],[2021.19,17.2],[2021.34,16.95],[2021.1,16.6],[2021.01,20.2],[2020.62,14.8],[2020.65,14.7],[2020.68,14.6],[2020.74,14.75],[2020.78,14.7],[2020.76,14.2],[2020.8,14.25],[2020.84,14.6],[2020.87,14.55],[2020.9,14.5],[2020.93,14.3],[2020.86,14.0],[2020.88,14.0],[2021.18,14.2],[2020.36,13.6],[2020.4,13.6],[2020.45,13.55],[2020.5,13.6],[2020.52,13.3],[2020.5,13.2],[2020.35,13.1],[2020.38,13.3],[2020.47,13.2],[2020.66,13.47],[2020.66,13.37],[2020.745,13.57],[2020.75,13.42],[2020.755,13.24],[2020.81,13.52],[2020.81,13.3],[2020.83,13.52],[2020.91,13.57],[2021.2,13.65],[2021.2,13.5],[2021.2,13.4],[2021.2,13.3],[2021.155,13.3],[2021.26,13.65],[2021.3,13.44],[2021.38,13.37],[2021.49,13.4],[2021.61,13.56],[2021.615,13.42],[2021.645,13.23],[2021.73,13.4],[2021.71,13.3],[2021.75,13.35],[2021.77,13.4],[2021.835,13.47],[2021.865,13.75],[2021.865,13.6],[2021.865,13.5],[2021.85,13.45],[2021.895,13.57],[2021.965,13.5],[2021.96,13.32],[2022.1,13.54],[2022.1,13.4],[2022.18,13.54],[2022.275,13.6],[2022.615,13.5],[2022.975,13.54],[2023.0,13.44],[2023.05,13.69],[2023.06,13.94],[2023.09,14.1],[2023.23,14.1],[2023.23,14.36],[2023.31,15.12],[2023.39,13.87],[2023.5,14.32],[2023.115,12.71],[2023.325,12.71],[2023.43,12.98],[2023.485,12.73],[2023.485,12.63],[2022.68,11.47],[2022.99,11.39],[2023.01,10.55],[2020.32,12.8],[2020.34,12.7],[2020.33,12.5],[2020.32,12.3],[2020.36,12.2],[2020.31,12.4],[2020.31,11.85],[2020.355,11.6],[2020.335,11.3],[2020.41,10.75],[2020.435,11.93],[2020.455,12.44],[2020.43,12.93],[2020.43,12.85],[2020.485,12.2],[2020.485,10.75],[2020.515,10.65],[2020.61,10.32],[2020.635,10.55],[2020.515,12.85],[2020.53,12.75],[2020.52,12.6],[2020.535,12.5],[2020.52,12.35],[2020.535,12.2],[2020.585,13.0],[2020.58,12.35],[2020.58,12.12],[2020.545,12.05],[2020.6,12.7],[2020.54,11.6],[2020.6,11.68],[2020.67,11.68],[2020.69,11.82],[2020.71,11.78],[2020.805,11.93],[2020.885,12.83],[2020.91,11.78],[2020.75,11.17],[2020.82,12.65],[2020.83,12.5],[2020.82,12.35],[2020.85,12.55],[2020.88,12.55],[2020.9,12.45],[2020.92,12.3],[2020.94,12.45],[2020.945,12.65],[2020.93,12.6],[2020.98,12.5],[2021.01,12.35],[2021.01,12.12],[2021.05,12.8],[2021.05,12.72],[2021.105,12.12],[2021.175,12.15],[2021.21,11.9],[2021.205,11.75],[2021.285,11.88],[2021.195,11.57],[2021.21,11.5],[2021.195,11.27],[2021.24,11.24],[2021.31,11.17],[2021.41,11.27],[2021.02,11.32],[2020.985,11.0],[2020.985,10.72],[2021.02,10.75],[2021.43,11.0],[2021.42,10.87],[2021.45,10.72],[2021.515,11.03],[2021.5,11.0],[2021.515,10.82],[2021.305,12.9],[2021.34,12.75],[2021.33,12.65],[2021.47,12.88],[2021.47,12.71],[2021.47,12.55],[2021.47,12.35],[2021.55,12.65],[2021.55,12.55],[2021.55,12.45],[2021.575,12.65],[2021.55,12.12],[2021.615,12.65],[2021.62,12.4],[2021.685,12.57],[2021.79,12.7],[2021.785,12.55],[2021.675,12.15],[2021.63,11.85],[2021.715,11.97],[2021.725,11.8],[2021.74,11.83],[2021.86,11.46],[2021.93,11.44],[2022.12,11.85],[2022.24,11.32],[2022.29,11.1],[2022.39,10.88],[2022.015,10.45],[2022.05,10.7],[2022.05,10.58],[2022.055,10.35],[2022.575,19.8],[2022.6,19.8],[2022.585,19.56],[2022.565,19.7],[2022.565,19.36],[2022.565,19.0],[2022.68,19.0],[2022.575,18.2],[2022.645,18.22],[2022.46,16.25],[2022.46,16.13],[2020.38,19.35],[2020.39,19.2],[2020.43,19.2],[2020.44,19.4],[2020.47,19.3],[2020.47,18.8],[2020.47,18.4],[2020.46,18.0],[2020.46,17.6],[2020.5,17.5],[2020.5,16.6],[2020.52,16.3],[2020.52,15.9],[2020.48,17.0],[2020.47,16.7],[2020.5,19.1],[2020.56,19.2],[2020.58,19.15],[2020.6,19.1],[2020.62,19.05],[2020.3,17.2],[2020.31,16.6],[2020.4,15.6],[2020.44,15.9],[2020.32,13.0],[2020.34,13.0],[2020.75,14.9],[2020.82,14.8],[2020.9,14.9],[2021.1,14.65],[2021.16,14.6],[2021.18,14.5],[2021.15,14.05]];

// ---------- east-west space-time (lon minutes, decimal year) ----------
const ewtCore=[[36.09,2020.305],[41.06,2020.305],[40.6,2020.4],[40.4,2020.5],[40.2,2020.58],[39.9,2020.66],[39.4,2020.72],[38.8,2020.75],[37.8,2020.74],[37.4,2020.72],[37.35,2020.63],[36.65,2020.56],[36.5,2020.5],[36.95,2020.46],[36.35,2020.4]];
const ewtOrange=[[34.72,2020.385],[34.85,2020.385],[34.95,2020.37],[35.1,2020.385],[35.25,2020.385],[35.4,2020.385],[35.55,2020.39],[35.7,2020.385],[35.85,2020.38],[36.0,2020.38],[36.2,2020.37],[35.09,2020.31],[35.4,2020.32],[35.71,2020.34],[36.31,2020.456],[34.9,2020.81],[35.18,2020.81],[35.06,2020.9],[35.84,2020.85],[35.69,2020.93],[28.82,2020.98],[29.0,2020.98],[34.24,2021.1],[35.23,2021.12],[32.71,2021.29],[31.64,2021.62],[33.06,2021.82],[36.94,2021.96],[36.7,2022.03],[35.94,2022.97],[32.15,2023.05],[34.3,2023.23],[39.3,2020.82],[39.5,2020.8],[39.7,2020.78],[39.9,2020.76],[40.1,2020.75],[40.3,2020.8],[40.1,2020.82],[39.9,2020.85],[39.6,2020.84],[39.4,2020.87],[39.3,2020.9],[39.5,2020.92],[39.7,2020.9],[39.9,2020.92],[40.0,2020.95],[39.4,2020.95],[39.7,2020.96],[39.85,2020.88],[40.4,2020.82],[40.55,2020.8],[40.9,2020.7],[40.75,2020.73],[40.6,2020.67],[41.0,2020.62],[40.75,2020.6],[41.25,2020.6],[41.1,2020.6],[41.2,2020.64],[40.75,2020.65],[37.1,2020.77],[37.25,2020.78],[37.4,2020.87],[37.15,2020.7],[37.0,2020.72],[36.5,2020.63],[36.9,2020.6],[36.97,2020.58],[37.25,2020.64],[38.0,2020.78],[37.95,2020.82],[38.2,2020.85],[38.2,2020.88],[38.6,2020.87],[38.8,2020.87],[38.85,2020.88],[38.3,2020.77],[38.1,2020.9],[36.8,2020.95],[37.4,2020.95],[37.5,2020.98],[37.6,2021.0],[36.9,2021.0],[37.0,2021.0],[37.9,2020.96],[38.0,2020.98],[38.2,2020.98],[37.85,2021.0],[38.05,2021.02],[38.4,2020.97],[38.95,2020.95],[39.1,2020.96],[39.3,2020.98],[39.5,2020.99],[39.7,2021.0],[39.9,2020.98],[40.1,2021.0],[40.3,2021.02],[40.5,2021.0],[40.7,2021.0],[41.2,2021.0],[40.2,2021.04],[38.5,2021.03],[38.75,2021.03],[39.0,2021.03],[39.2,2021.02],[39.5,2021.03],[39.6,2021.05],[39.0,2021.08],[39.2,2021.08],[39.4,2021.09],[39.55,2021.1],[39.7,2021.08],[37.27,2021.18],[37.7,2021.19],[37.9,2021.19],[38.0,2021.19],[38.1,2021.19],[38.2,2021.19],[38.3,2021.19],[38.45,2021.19],[38.6,2021.19],[38.7,2021.19],[38.9,2021.2],[39.2,2021.2],[39.6,2021.2],[39.8,2021.19],[40.0,2021.19],[40.2,2021.19],[40.4,2021.19],[40.6,2021.19],[40.75,2021.19],[39.9,2021.13],[39.95,2021.16],[40.1,2021.17],[37.6,2021.14],[39.5,2021.17],[39.6,2021.14],[36.83,2021.28],[37.0,2021.34],[41.06,2021.25],[41.2,2021.25],[41.3,2021.26],[40.95,2021.32],[41.3,2021.4],[38.7,2021.35],[38.85,2021.35],[39.0,2021.35],[39.35,2021.35],[39.5,2021.35],[39.6,2021.35],[40.0,2021.3],[40.1,2021.3],[40.15,2021.36],[40.15,2021.4],[40.15,2021.45],[39.7,2021.44],[39.85,2021.44],[40.25,2021.3],[40.45,2021.31],[40.55,2021.3],[40.1,2021.5],[40.3,2021.48],[40.5,2021.49],[40.7,2021.49],[39.5,2021.55],[39.7,2021.52],[40.1,2021.55],[40.3,2021.52],[40.4,2021.55],[40.1,2021.6],[40.25,2021.6],[36.68,2021.57],[36.9,2021.54],[37.0,2021.54],[36.72,2021.62],[36.93,2021.62],[37.27,2021.62],[37.42,2021.62],[37.7,2021.64],[38.2,2021.65],[38.45,2021.65],[38.88,2021.56],[39.42,2021.61],[39.4,2021.67],[39.35,2021.73],[40.25,2021.61],[40.56,2021.61],[40.78,2021.61],[40.87,2021.64],[40.35,2021.68],[40.12,2021.72],[36.65,2021.72],[36.8,2021.72],[36.9,2021.72],[37.05,2021.72],[37.2,2021.72],[37.35,2021.72],[37.5,2021.72],[37.65,2021.72],[37.8,2021.72],[37.95,2021.72],[38.1,2021.72],[38.25,2021.72],[38.4,2021.72],[38.55,2021.72],[38.7,2021.72],[38.85,2021.72],[37.4,2021.74],[37.6,2021.74],[37.8,2021.74],[38.0,2021.74],[38.2,2021.74],[38.4,2021.74],[40.62,2021.75],[40.8,2021.73],[41.0,2021.71],[41.24,2021.71],[41.15,2021.73],[40.1,2021.78],[40.2,2021.77],[40.89,2021.77],[37.18,2021.79],[37.37,2021.82],[37.58,2021.8],[37.64,2021.86],[37.9,2021.78],[38.32,2021.86],[38.85,2021.86],[38.78,2021.76],[39.13,2021.82],[39.23,2021.82],[39.56,2021.78],[39.53,2021.82],[39.66,2021.86],[39.81,2021.92],[40.09,2021.95],[40.35,2021.96],[40.2,2021.86],[40.35,2021.86],[40.5,2021.86],[40.7,2021.84],[40.56,2021.89],[38.0,2022.04],[38.07,2022.04],[39.2,2022.04],[39.63,2022.04],[39.7,2022.02],[39.94,2022.04],[40.15,2022.1],[40.1,2022.13],[40.68,2022.1],[41.24,2022.1],[41.28,2022.17],[39.91,2022.23],[39.95,2022.29],[40.8,2022.27],[39.65,2022.38],[39.34,2022.45],[37.52,2022.45],[38.35,2022.51],[38.5,2022.51],[38.6,2022.51],[38.75,2022.51],[38.9,2022.51],[39.05,2022.51],[39.2,2022.51],[37.39,2022.57],[37.45,2022.56],[37.35,2022.6],[37.58,2022.59],[37.86,2022.56],[38.0,2022.56],[37.83,2022.64],[37.92,2022.67],[40.9,2022.67],[41.3,2022.61],[39.94,2023.0],[40.66,2022.98],[41.12,2023.01],[41.27,2023.04],[39.12,2023.09],[39.54,2023.11],[39.3,2023.3],[40.12,2023.33],[40.35,2023.39],[40.15,2023.43],[39.38,2023.49],[39.5,2023.48],[41.25,2020.35],[41.27,2020.38]];

// ---------- magnitude-time 2020~ (decimal year, M) ----------
const mt1Solid=[[2020.3,0.5],[2020.3,3.4],[2020.38,3.0],[2020.45,2.5],[2020.52,2.1],[2020.58,1.7],[2020.64,1.1],[2020.68,0.5]];
const mt1Dense=[[2020.31,2.8],[2020.31,3.5],[2020.31,2.2],[2020.33,2.5],[2020.33,3.0],[2020.35,2.1],[2020.35,2.4],[2020.37,3.3],[2020.37,2.2],[2020.39,2.6],[2020.39,3.4],[2020.41,2.3],[2020.41,3.6],[2020.43,2.5],[2020.45,2.8],[2020.45,2.2],[2020.47,2.5],[2020.49,2.7],[2020.49,2.2],[2020.51,2.9],[2020.51,2.5],[2020.51,2.1],[2020.54,2.3],[2020.54,2.8],[2020.57,2.5],[2020.57,2.1],[2020.6,2.2],[2020.6,2.0],[2020.63,2.3],[2020.63,1.6],[2020.65,2.0],[2020.65,1.5],[2020.68,2.5],[2020.68,1.9],[2020.68,1.4],[2020.7,2.3],[2020.72,1.9],[2020.72,1.5],[2020.72,1.2],[2020.74,2.5],[2020.74,1.9],[2020.77,1.9],[2020.77,1.3],[2020.79,1.5],[2020.79,1.0],[2020.81,2.1],[2020.81,1.6],[2020.84,1.8],[2020.84,1.1],[2020.86,2.2],[2020.86,1.4],[2020.88,1.9],[2020.91,2.0],[2020.91,1.5],[2020.91,0.9],[2020.94,1.7],[2020.94,1.1],[2020.97,1.6],[2021.0,2.0],[2021.0,1.3],[2021.01,2.7],[2021.01,1.1],[2021.03,2.1],[2021.03,1.7],[2021.06,2.5],[2021.06,1.5],[2021.06,1.2],[2021.08,2.0],[2021.08,1.3],[2021.1,1.8],[2021.1,1.5],[2021.12,2.0],[2021.12,1.3],[2021.15,1.5],[2021.15,1.1],[2021.18,2.0],[2021.18,1.3],[2021.2,1.7],[2021.23,1.5],[2021.23,0.9],[2021.26,1.2],[2021.28,1.5],[2021.28,1.0],[2021.31,0.7],[2021.33,0.8],[2021.36,1.5],[2021.4,1.3],[2021.4,0.9],[2021.44,0.7],[2021.53,1.2],[2021.53,0.8],[2021.56,1.3],[2021.58,1.7],[2021.63,1.4],[2021.63,0.8],[2021.66,1.3],[2021.7,1.8],[2021.7,1.3],[2021.7,0.8],[2021.72,2.9],[2021.72,2.4],[2021.72,1.8],[2021.73,2.2],[2021.73,1.7],[2021.76,1.6],[2021.76,1.1],[2021.79,1.2],[2021.84,1.3],[2021.84,0.9],[2021.89,1.9],[2021.89,1.2],[2021.91,2.1]];
const mt1Events=[[2020.33,3.8],[2020.34,3.3],[2020.35,2.9],[2020.36,3.6],[2020.37,2.7],[2020.38,3.1],[2020.4,3.0],[2020.42,2.9],[2020.44,2.7],[2020.46,3.3],[2020.48,3.0],[2020.5,3.4],[2020.53,3.1],[2020.55,3.0],[2020.58,2.7],[2020.6,2.5],[2020.53,2.6],[2020.5,2.4],[2020.62,2.7],[2020.64,2.5],[2020.67,2.2],[2020.72,2.2],[2020.75,2.2],[2020.78,2.2],[2020.8,2.0],[2020.85,2.0],[2020.9,2.1],[2020.95,2.4],[2020.97,2.0],[2021.0,2.5],[2021.02,2.4],[2021.05,2.2],[2021.1,2.2],[2021.13,2.0],[2021.15,1.9],[2020.62,1.9],[2020.66,1.7],[2020.7,1.7],[2020.75,1.5],[2020.79,1.7],[2020.83,1.3],[2020.88,1.6],[2020.92,1.8],[2020.96,1.3],[2021.0,1.7],[2021.03,1.4],[2021.06,1.9],[2021.08,1.6],[2021.12,1.7],[2021.17,1.6],[2021.2,1.3],[2020.6,1.4],[2020.65,1.2],[2020.7,1.0],[2020.74,1.3],[2020.78,0.9],[2020.82,0.8],[2020.87,1.1],[2020.9,1.3],[2020.93,0.9],[2020.98,1.0],[2021.02,0.8],[2021.05,1.1],[2021.09,1.0],[2021.13,1.2],[2021.16,0.9],[2021.2,1.0],[2020.62,0.8],[2020.67,0.6],[2020.72,0.7],[2020.76,0.6],[2020.8,0.55],[2020.85,0.7],[2020.89,0.6],[2020.95,0.6],[2021.0,0.55],[2021.04,0.6],[2021.08,0.7],[2021.11,0.6],[2021.14,0.55],[2021.18,0.7],[2021.22,0.6],[2021.26,0.7],[2021.3,0.9],[2021.33,1.2],[2021.36,1.0],[2021.35,0.8],[2021.38,0.7],[2021.42,0.6],[2021.45,0.9],[2021.47,0.6],[2021.49,1.1],[2021.5,0.6],[2021.54,0.6],[2021.58,0.8],[2021.6,1.0],[2021.62,1.2],[2021.64,1.1],[2021.66,0.6],[2021.7,0.6],[2021.72,1.0],[2021.74,1.4],[2021.77,1.3],[2021.8,1.5],[2021.78,0.9],[2021.82,0.7],[2021.85,0.6],[2021.87,1.5],[2021.88,0.7],[2021.9,0.7],[2021.95,0.6],[2021.98,0.7],[2022.0,0.6],[2022.06,0.6],[2022.15,0.55],[2022.5,0.6],[2022.55,0.6],[2022.6,0.55],[2020.32,5.5],[2020.385,5.4],[2020.42,5.3],[2020.325,5.0],[2020.385,4.7],[2020.32,4.3],[2020.39,4.4],[2020.385,4.0],[2020.515,4.8],[2020.515,4.4],[2020.52,4.0],[2020.52,3.8],[2020.56,3.5],[2020.565,3.3],[2020.55,2.9],[2020.47,3.9],[2020.39,4.8],[2020.7,3.0],[2020.705,2.8],[2020.83,2.4],[2020.98,3.3],[2020.99,3.1],[2021.04,2.9],[2021.09,3.1],[2021.195,4.3],[2021.195,3.1],[2021.195,2.6],[2021.21,2.4],[2021.195,2.2],[2021.21,1.9],[2021.355,2.7],[2021.33,2.5],[2021.355,2.4],[2021.36,2.2],[2021.375,2.1],[2021.43,3.3],[2021.415,1.9],[2021.43,1.7],[2021.29,1.8],[2021.545,4.3],[2021.55,3.6],[2021.55,2.1],[2021.575,2.4],[2021.62,3.3],[2021.63,3.0],[2021.625,2.5],[2021.625,2.0],[2021.645,1.8],[2021.65,1.6],[2021.725,4.7],[2021.725,4.4],[2021.75,4.3],[2021.745,3.7],[2021.725,3.4],[2021.735,3.2],[2021.745,3.05],[2021.75,2.9],[2021.75,2.8],[2021.75,2.5],[2021.75,2.1],[2021.755,1.9],[2021.865,2.7],[2021.865,2.5],[2021.875,2.4],[2021.82,2.1],[2021.865,2.1],[2021.93,1.8],[2021.975,2.0],[2022.02,1.8],[2022.05,2.2],[2022.05,1.5],[2022.05,1.3],[2022.05,1.1],[2022.12,0.8],[2022.245,2.3],[2022.28,2.1],[2022.3,1.8],[2022.39,2.0],[2022.52,2.9],[2022.535,2.7],[2022.52,2.5],[2022.52,2.3],[2022.52,2.1],[2022.535,1.8],[2022.52,1.7],[2022.52,1.6],[2022.535,1.4],[2022.52,1.2],[2022.52,1.0],[2022.52,0.9],[2022.6,2.0],[2022.645,1.9],[2022.615,1.1],[2022.59,0.7],[2022.68,0.7],[2022.99,2.2],[2023.01,1.7],[2022.98,0.8],[2023.0,0.8],[2023.115,1.8],[2023.235,2.1],[2023.235,1.3],[2023.325,0.9],[2023.31,0.7],[2023.39,0.6],[2023.43,1.5],[2023.485,2.0],[2023.49,0.8],[2023.5,0.7],[2023.05,0.6],[2023.09,0.5]];
const mt1Cumulative=[[2020.3,0],[2020.31,931],[2020.335,1354],[2020.37,1777],[2020.385,2370],[2020.41,3005],[2020.47,3174],[2020.51,3343],[2020.545,4063],[2020.6,4190],[2020.72,4317],[2020.86,4376],[2021.01,4444],[2021.2,4571],[2021.44,4630],[2021.72,4681],[2021.735,4994],[2021.765,5062],[2022.025,5104],[2022.49,5121],[2022.535,5163],[2023.67,5180]];

// ---------- magnitude-time 2011~ (decimal year, M) ----------
const mt2Gray=[[2011.94,2.7],[2011.88,2.4],[2012.1,2.5],[2012.05,2.0],[2012.38,1.9],[2012.1,1.8],[2012.87,2.4],[2012.85,2.1],[2012.73,1.7],[2013.09,1.8],[2013.3,1.8],[2013.3,2.1],[2013.52,2.1],[2013.78,3.9],[2013.78,3.3],[2013.67,2.9],[2013.78,2.9],[2013.78,2.7],[2013.58,2.6],[2013.8,2.4],[2013.8,2.3],[2013.78,2.0],[2013.93,1.5],[2013.52,1.5],[2013.36,1.4],[2014.7,2.6],[2014.78,2.5],[2014.72,2.0],[2015.08,2.0],[2015.11,1.6],[2014.9,1.6],[2015.44,1.7],[2015.55,1.6],[2015.82,1.8],[2016.02,2.0],[2015.82,1.4],[2016.55,1.9],[2016.8,2.2],[2016.86,1.9],[2016.78,1.5],[2017.75,2.1],[2017.75,1.7],[2017.95,1.4],[2017.6,1.3],[2017.73,1.2],[2018.36,2.5],[2018.5,2.3],[2018.45,1.9],[2018.5,1.7],[2018.39,1.4],[2018.22,1.0],[2018.55,1.0],[2017.27,1.0],[2017.13,0.9],[2017.73,1.1],[2017.9,0.9],[2018.0,0.7],[2016.86,0.7],[2016.97,0.6],[2016.11,0.9],[2016.22,0.7],[2015.76,0.8],[2015.33,0.8],[2015.16,1.0],[2015.05,1.3],[2014.67,1.3],[2014.78,1.0],[2014.56,0.8],[2014.95,0.7],[2015.44,1.1],[2015.71,1.1],[2015.55,1.3],[2011.6,1.4],[2011.7,1.0],[2011.8,1.3],[2011.85,0.8],[2011.95,1.1],[2012.0,1.6],[2012.1,1.2],[2012.15,0.9],[2012.25,1.4],[2012.3,0.8],[2012.38,1.1],[2012.45,0.7],[2012.55,0.8],[2012.7,1.2],[2012.8,1.2],[2012.9,0.9],[2013.0,0.7],[2013.1,0.9],[2013.2,0.8],[2013.3,1.3],[2013.4,1.1],[2013.5,0.8],[2013.55,1.2],[2013.65,1.0],[2013.7,1.4],[2013.75,0.7],[2013.85,1.0],[2013.95,0.7],[2014.05,1.2],[2014.1,0.8],[2011.5,0.7],[2011.65,0.6],[2011.9,0.6],[2012.2,0.6],[2012.6,0.55],[2013.15,0.6],[2013.6,0.6],[2014.0,0.6],[2015.0,0.6],[2015.3,0.55],[2015.6,0.6],[2015.9,0.7],[2016.2,0.55],[2016.95,0.55],[2017.3,0.55],[2017.6,0.6],[2017.95,0.55],[2018.2,0.6],[2018.4,0.65],[2018.6,0.6],[2011.75,1.7],[2011.9,1.5],[2012.02,1.4],[2012.08,1.0],[2012.2,1.0],[2012.32,1.2],[2012.5,1.1],[2012.62,1.0],[2012.68,0.7],[2012.78,0.9],[2012.92,1.4],[2013.05,1.1],[2013.12,1.3],[2013.25,1.0],[2013.35,0.9],[2013.45,1.6],[2013.48,1.1],[2013.6,1.7],[2013.62,0.9],[2013.72,1.1],[2013.82,1.3],[2013.9,0.9],[2014.02,0.9],[2014.6,1.6],[2014.7,0.7],[2014.85,1.2],[2015.0,1.0],[2015.2,1.3],[2015.25,0.7],[2015.4,0.6],[2015.65,0.8],[2015.85,1.0],[2016.0,0.6]];
const mt2Purple=[[2011.2,4.8],[2011.2,4.7],[2011.2,3.8],[2011.18,3.6],[2011.21,3.4],[2011.2,3.1],[2011.23,2.9],[2011.23,2.6],[2011.5,2.6],[2011.5,2.2],[2011.23,2.3],[2011.23,2.1],[2011.23,1.8],[2011.5,1.8],[2011.34,1.8],[2011.09,2.7],[2011.15,1.0],[2011.28,1.2],[2011.23,1.6],[2011.34,1.3],[2011.07,0.9],[2011.23,0.7],[2011.18,3.2],[2011.2,2.7],[2011.15,2.4],[2011.25,2.0],[2011.18,1.5],[2011.3,1.0],[2011.12,1.3]];
const mt2Blue=[[2014.29,3.95],[2014.32,3.85],[2014.3,3.75],[2014.35,3.7],[2014.28,3.6],[2014.33,3.5],[2014.3,3.4],[2014.32,3.25],[2014.3,3.1],[2014.29,2.9],[2014.33,2.7],[2014.3,2.6],[2014.36,2.4],[2014.32,2.3],[2014.35,2.1],[2014.3,1.9],[2014.33,1.8],[2014.31,1.6],[2014.36,1.4],[2014.3,1.2],[2014.35,1.0],[2014.25,0.9],[2014.3,0.8],[2014.22,0.7],[2014.28,0.6],[2014.23,0.55],[2014.35,0.7],[2014.32,1.1]];
const mt2Green=[[2018.88,3.1],[2019.0,3.0],[2018.9,2.8],[2018.88,2.6],[2019.0,2.5],[2019.0,2.3],[2018.92,2.2],[2018.88,2.0],[2018.92,1.8],[2018.9,1.6],[2018.92,1.4],[2019.12,1.6],[2019.15,1.7],[2019.0,1.3],[2018.9,1.1],[2019.0,1.0],[2018.88,0.9],[2019.15,0.7],[2018.85,0.7],[2018.95,0.6],[2019.0,0.8],[2019.75,2.3],[2019.75,1.8],[2019.6,1.6],[2019.65,1.7],[2019.75,1.45],[2019.63,1.2],[2019.85,1.0],[2019.55,0.9],[2019.65,0.8],[2019.75,0.65],[2019.55,0.55],[2019.7,0.6],[2019.85,0.6],[2019.8,0.55]];
const mt2Solid=[[2020.26,0.5],[2020.26,3.6],[2020.36,2.9],[2020.5,2.3],[2020.62,1.5],[2020.72,0.5]];
const mt2Dense=[[2020.28,3.8],[2020.28,3.4],[2020.28,3.0],[2020.31,3.6],[2020.31,2.8],[2020.35,3.2],[2020.35,2.6],[2020.38,3.0],[2020.42,2.9],[2020.46,3.0],[2020.46,2.5],[2020.5,3.2],[2020.5,2.7],[2020.55,2.8],[2020.55,2.3],[2020.6,2.7],[2020.6,2.2],[2020.65,2.4],[2020.65,1.9],[2020.72,2.5],[2020.72,2.0],[2020.72,1.5],[2020.78,2.3],[2020.78,1.9],[2020.82,1.7],[2020.82,1.3],[2020.88,2.2],[2020.88,1.8],[2020.95,2.8],[2020.95,2.3],[2020.95,1.5],[2021.0,2.7],[2021.05,2.6],[2021.05,1.9],[2021.1,2.9],[2021.1,2.3],[2021.1,1.7],[2021.12,2.0],[2021.12,1.4],[2021.2,2.5],[2021.2,1.9],[2021.2,1.2],[2021.28,2.8],[2021.28,2.1],[2021.28,1.4],[2021.33,2.3],[2021.33,1.7],[2021.4,2.6],[2021.4,1.8],[2021.4,1.2],[2021.48,2.4],[2021.48,1.9],[2021.5,2.8],[2021.58,2.5],[2021.58,1.8],[2021.58,1.3],[2021.65,2.9],[2021.65,2.1],[2021.68,3.1],[2021.68,2.6],[2021.75,2.5],[2021.75,1.9],[2021.75,1.4],[2021.82,2.7],[2021.82,2.2],[2021.82,1.5],[2021.88,2.2],[2021.88,1.3],[2021.92,2.6],[2021.92,1.6],[2022.02,2.1],[2022.02,1.4],[2022.08,1.9],[2022.08,1.2],[2022.12,1.7],[2022.3,1.9],[2022.3,1.5],[2022.3,1.0],[2022.35,1.3],[2022.42,1.9],[2022.47,1.7],[2022.47,1.2],[2022.55,1.9],[2022.55,1.6],[2022.55,1.3],[2022.6,1.0],[2022.6,0.8]];
const mt2Orange=[[2020.3,5.5],[2020.41,5.4],[2020.41,5.3],[2020.3,5.0],[2020.33,4.7],[2020.3,4.3],[2020.41,4.4],[2020.55,4.8],[2020.52,4.4],[2020.52,4.0],[2020.52,3.8],[2020.57,3.5],[2020.57,3.3],[2020.7,2.9],[2020.7,3.1],[2020.98,3.3],[2021.17,4.3],[2021.17,3.1],[2021.03,3.1],[2021.03,2.9],[2021.5,4.3],[2021.53,3.6],[2021.53,3.3],[2021.72,4.7],[2021.72,4.4],[2021.75,4.3],[2021.75,3.7],[2021.72,3.4],[2021.72,3.2],[2021.72,3.0],[2021.72,2.9],[2021.89,2.7],[2021.89,2.5],[2021.89,2.4],[2021.36,2.7],[2021.36,2.4],[2021.42,3.3],[2022.21,2.3],[2022.05,2.2],[2022.52,2.9],[2022.52,2.7],[2022.52,2.5],[2022.52,2.3],[2022.54,2.1],[2022.65,1.9],[2022.98,2.2],[2023.09,1.8],[2023.22,2.1],[2023.47,2.0],[2023.42,1.5],[2023.22,1.3],[2023.01,1.7],[2022.98,0.8],[2023.3,0.9],[2023.47,0.7],[2022.67,0.7],[2022.27,2.0],[2022.38,2.0],[2022.05,1.8],[2022.0,1.5],[2022.05,1.3],[2020.65,2.6],[2020.8,2.5],[2020.85,2.0],[2020.9,2.4],[2021.0,2.2],[2021.1,2.5],[2021.15,2.0],[2021.25,2.3],[2021.3,1.8],[2021.4,2.0],[2021.45,1.6],[2021.55,2.2],[2021.6,1.8],[2021.65,2.4],[2021.8,2.0],[2021.95,1.7],[2020.7,1.6],[2020.78,1.2],[2020.85,1.4],[2020.92,1.0],[2021.0,1.5],[2021.07,1.1],[2021.14,1.3],[2021.22,1.0],[2021.3,1.3],[2021.38,1.1],[2021.47,1.4],[2021.55,1.2],[2021.62,0.9],[2021.7,1.3],[2021.78,1.0],[2021.85,1.3],[2021.92,0.9],[2022.0,1.0],[2022.1,0.8],[2022.2,1.3],[2022.4,1.2],[2022.5,1.5],[2022.58,1.1],[2022.7,1.0],[2020.75,0.7],[2020.85,0.7],[2020.95,0.6],[2021.05,0.7],[2021.15,0.6],[2021.25,0.7],[2021.35,0.6],[2021.45,0.7],[2021.55,0.6],[2021.65,0.7],[2021.75,0.6],[2021.85,0.7],[2021.95,0.6],[2022.05,0.7],[2022.15,0.6],[2022.3,0.6],[2022.45,0.7],[2022.6,0.6],[2022.8,0.55],[2023.05,0.6],[2023.2,0.6],[2023.4,0.6]];
const mt2Cumulative=[[2011.12,0],[2011.28,1430],[2011.67,1640],[2012.38,1809],[2013.69,1921],[2013.8,2131],[2014.23,2201],[2014.37,2720],[2014.67,2832],[2015.11,2902],[2016.64,2972],[2018.83,3042],[2018.93,3323],[2020.25,3393],[2020.32,3393],[2020.41,5356],[2020.52,7459],[2021.23,7992],[2021.72,8048],[2021.78,8440],[2022.6,8552],[2023.72,8580]];

// ---------- legend text ----------
const legendRows=[
['#7030A0','2011 年３月 11 日  ～  2011 年７月 10 日'],
['#0000FF','2014 年４月１日  ～  2014 年６月 30 日'],
['#00B050','2018 年 11 月 22 日  ～  2019 年 12 月 31 日'],
['#FFC000','2020 年４月 22 日  ～  2023 年７月 31 日'],
['#FF0000','2023 年８月１日  ～  2023 年８月 31 日'],
['#808080','2011 年１月１日  ～  2023 年８月 31 日　の上記以外']
];

// ---------- drawing ----------
const ORANGE='#FFA500',PURPLE='#A75BAE',BLUE='#0000F0',GREEN='#00FF00',GRAY='#C9C9C9',OLIVE='#8F8F1E',CUM='#4F9A50';
const CJK='"Noto Sans CJK JP"',MONO='"DejaVu Sans Mono"',TXT='#222';
const grids=[],xAxes=[],yAxes=[],series=[],gfx=[];
const blankAxis={type:'value',axisLine:{show:false,onZero:false},axisTick:{show:false},axisLabel:{show:false},splitLine:{show:false}};
function axis(list,o){list.push(Object.assign({},blankAxis,o));return list.length-1;}
function side(list,grid,range,pos,o){
  o=o||{};
  return axis(list,Object.assign({gridIndex:grid,position:pos,z:3},range,{
    axisLine:{show:o.line!==false,onZero:false,lineStyle:{color:'#000',width:3}},
    axisTick:o.ticks?{show:true,customValues:o.ticks,length:o.len||4,inside:false,lineStyle:{color:'#000',width:o.tw||1.5}}:{show:false},
    axisLabel:o.labels?{show:true,customValues:o.labels,formatter:o.fmt||(v=>String(v)),margin:o.margin||8,color:TXT,fontFamily:o.font||MONO,fontSize:o.size||13.5,rotate:o.rotate||0,hideOverlap:false}:{show:false}
  }));
}
function dataAxis(list,grid,range,pos,dotted){
  const o={gridIndex:grid,position:pos,z:0};
  if(dotted){o.axisTick={show:false,customValues:dotted};o.splitLine={show:true,lineStyle:{color:'#000',width:1.6,type:[1.6,2]}};}
  return axis(list,Object.assign(o,range));
}
function addGrid(l,t,w,h){grids.push({left:l,top:t,width:w,height:h,containLabel:false});return grids.length-1;}
function ring(xi,yi,data,color,size,z){series.push({type:'scatter',xAxisIndex:xi,yAxisIndex:yi,data:data,symbol:'circle',symbolSize:size,silent:true,z:z||2,itemStyle:{color:'#fff',borderColor:color,borderWidth:1.7,opacity:1}});}
function poly(xi,yi,pts,color,z){series.push({type:'custom',xAxisIndex:xi,yAxisIndex:yi,data:[pts[0]],silent:true,clip:true,z:z||2,
  renderItem:(p,api)=>({type:'polygon',shape:{points:pts.map(q=>api.coord(q))},style:{fill:color,stroke:color,lineWidth:5,lineDash:[0.1,4.6],lineCap:'round'}})});}
function line(xi,yi,pts,color,w,z,dash){series.push({type:'line',xAxisIndex:xi,yAxisIndex:yi,data:pts,showSymbol:false,silent:true,z:z||2,clip:true,lineStyle:{color:color,width:w,type:dash||'solid'}});}
function stems(xi,yi,data,color,baseM,r,z){series.push({type:'custom',xAxisIndex:xi,yAxisIndex:yi,data:data,silent:true,clip:true,z:z||2,
  renderItem:(p,api)=>{const t=api.value(0),m=api.value(1),a=api.coord([t,baseM]),b=api.coord([t,m]);
    return {type:'group',children:[
      {type:'line',shape:{x1:a[0],y1:a[1],x2:b[0],y2:b[1]},style:{stroke:color,lineWidth:1.4}},
      {type:'circle',shape:{cx:b[0],cy:b[1],r:r},style:{fill:'#fff',stroke:color,lineWidth:1.5}}]};}});}
const lonR={min:28.78,max:41.40},latR={min:10.19,max:20.44};
const lonFmt=v=>"137°"+v+"'E",latFmt=v=>"36°"+v+"'N";
const monthsTicks=[];for(let y=2020;y<=2023;y++)for(let m=0;m<12;m++)monthsTicks.push(y+m/12);
const ymFmt=v=>Math.floor(v)+'/'+(v%1?'07':'01');
const SZ=5;

// map
{const g=addGrid(80,69,338,336.5);
 const x=dataAxis(xAxes,g,lonR,'bottom'),y=dataAxis(yAxes,g,latR,'left');
 side(xAxes,g,lonR,'bottom',{ticks:lonTicks,len:3,labels:lonTicks,fmt:lonFmt,font:'"Liberation Sans"',size:16.5,margin:15});
 side(xAxes,g,lonR,'top',{ticks:lonTicks,len:3});
 side(yAxes,g,latR,'left',{ticks:latTicks,len:3,labels:latTicks,fmt:latFmt,font:'"Liberation Sans"',size:16.5,margin:14});
 side(yAxes,g,latR,'right',{ticks:latTicks,len:3});
 contours.forEach(c=>line(x,y,c,'#ADADAD',1.4,1));
 mapGrayPatches.forEach(p=>poly(x,y,p,GRAY));
 ring(x,y,mapGray,GRAY,SZ);
 poly(x,y,mapPurpleCore,PURPLE);ring(x,y,mapPurple,PURPLE,SZ);
 poly(x,y,mapBlueCore,BLUE);ring(x,y,mapBlue,BLUE,SZ);
 poly(x,y,mapGreenCore,GREEN);ring(x,y,mapGreen,GREEN,SZ);
 poly(x,y,mapOrangeCore,ORANGE);poly(x,y,mapOrangeSouth,ORANGE);poly(x,y,mapOrangeMid,ORANGE);ring(x,y,mapOrange,ORANGE,SZ);
 line(x,y,[[32.99,15.47],[37.99,15.47],[37.99,11.98],[32.99,11.98],[32.99,15.47]],'#F03A20',1.6,4,[7,4]);
 series.push({type:'scatter',xAxisIndex:x,yAxisIndex:y,data:[[35.2,13.62]],symbol:'triangle',symbolSize:[14,13],silent:true,z:4,itemStyle:{color:'#FF0000'}});
}
// north-south section
{const g=addGrid(476.7,69,203.5,336.5),r={min:-4,max:10};
 const x=dataAxis(xAxes,g,r,'bottom',sectionDepths),y=dataAxis(yAxes,g,latR,'left');
 side(xAxes,g,r,'bottom',{ticks:sectionDepths,len:3,labels:sectionDepths,size:16,margin:13});
 side(xAxes,g,r,'top',{ticks:sectionDepths,len:3});
 side(yAxes,g,latR,'left',{ticks:latTicks,len:3});
 side(yAxes,g,latR,'right',{ticks:latTicks,len:3});
 line(x,y,nsTopo,OLIVE,1.6);
 poly(x,y,nsGrayPatch,GRAY);ring(x,y,nsGray,GRAY,SZ);ring(x,y,nsPurple,PURPLE,SZ);
 poly(x,y,nsUp,ORANGE);poly(x,y,nsCore,ORANGE);poly(x,y,nsWest,ORANGE);poly(x,y,nsBand,ORANGE);poly(x,y,nsLow,ORANGE);
 ring(x,y,nsOrange,ORANGE,SZ);ring(x,y,nsOrangeFringe,ORANGE,SZ);ring(x,y,nsBlue,BLUE,4.5);ring(x,y,nsGreen,GREEN,4.5);
}
// north-south space-time
{const g=addGrid(738,69,409,337),r={min:2020.302,max:2023.67};
 const x=dataAxis(xAxes,g,r,'bottom',halfYears),y=dataAxis(yAxes,g,latR,'left');
 side(xAxes,g,r,'bottom',{ticks:halfYears,len:9,labels:halfYears,fmt:ymFmt,margin:22});
 side(xAxes,g,r,'bottom',{ticks:monthsTicks,len:4,line:false});
 side(xAxes,g,r,'top',{ticks:halfYears,len:6});
 side(xAxes,g,r,'top',{ticks:monthsTicks,len:3,line:false});
 side(yAxes,g,latR,'left',{ticks:latTicks,len:3});
 side(yAxes,g,latR,'right',{ticks:latTicks,len:3});
 [nstCoreA,nstColumnB,nstColumnC,nstColumnD,nstBlockE,nstBlockF].forEach(p=>poly(x,y,p,ORANGE));
 ring(x,y,nstOrange,ORANGE,SZ);
}
// east-west section
{const g=addGrid(80,498.5,337.5,204),r={min:-4,max:10,inverse:true};
 const x=dataAxis(xAxes,g,lonR,'bottom'),y=dataAxis(yAxes,g,r,'left',sectionDepths);
 side(xAxes,g,lonR,'bottom',{ticks:lonTicks,len:3});
 side(xAxes,g,lonR,'top',{ticks:lonTicks,len:3});
 side(yAxes,g,r,'left',{ticks:sectionDepths,len:3,labels:sectionDepths,size:16,margin:10});
 side(yAxes,g,r,'right',{ticks:sectionDepths,len:3});
 line(x,y,ewTopo,OLIVE,1.6);
 poly(x,y,ewGrayPatch,GRAY);ring(x,y,ewGray,GRAY,SZ);
 poly(x,y,ewPurpleCore,PURPLE);ring(x,y,ewPurple,PURPLE,SZ);
 poly(x,y,ewBlueCore,BLUE);ring(x,y,ewBlue,BLUE,SZ);
 poly(x,y,ewGreenCore,GREEN);ring(x,y,ewGreen,GREEN,SZ);
 poly(x,y,ewCore,ORANGE);ring(x,y,ewOrange,ORANGE,SZ);ring(x,y,ewOrangeArc,ORANGE,SZ);
}
// magnitude-time 2020~
{const g=addGrid(738,499.5,409,204),r={min:2020.302,max:2023.67},m={min:0.5,max:6},c={min:0,max:5180};
 const x=dataAxis(xAxes,g,r,'bottom',halfYears),y=dataAxis(yAxes,g,m,'left');
 side(xAxes,g,r,'bottom',{ticks:halfYears,len:9,labels:halfYears,fmt:ymFmt,margin:22});
 side(xAxes,g,r,'bottom',{ticks:monthsTicks,len:4,line:false});
 side(xAxes,g,r,'top',{ticks:halfYears,len:6});
 side(xAxes,g,r,'top',{ticks:monthsTicks,len:3,line:false});
 side(yAxes,g,m,'left',{ticks:magnitudes,len:4,labels:magnitudes,size:16,margin:12});
 side(yAxes,g,m,'left',{ticks:minorMagnitudes,len:2,line:false});
 const yc=side(yAxes,g,c,'right',{ticks:countTicks1,len:4,labels:countTicks1,margin:14,size:14});
 stems(x,y,mt1Dense,ORANGE,0.5,4.2);
 stems(x,y,mt1Events,ORANGE,0.5,4.2);
 poly(x,y,mt1Solid,ORANGE);
 line(x,yc,mt1Cumulative,CUM,1.6,3);
}
// east-west space-time
{const g=addGrid(80,798,337,409),r={min:2020.297,max:2023.67,inverse:true};
 const x=dataAxis(xAxes,g,lonR,'bottom'),y=dataAxis(yAxes,g,r,'left',halfYears);
 side(xAxes,g,lonR,'bottom',{ticks:lonTicks,len:3});
 side(xAxes,g,lonR,'top',{ticks:lonTicks,len:3});
 side(yAxes,g,r,'left',{ticks:halfYears,len:4,labels:halfYears,fmt:ymFmt,rotate:90,margin:12});
 side(yAxes,g,r,'left',{ticks:monthsTicks,len:2,line:false});
 side(yAxes,g,r,'right',{ticks:halfYears,len:4});
 side(yAxes,g,r,'right',{ticks:monthsTicks,len:2,line:false});
 poly(x,y,ewtCore,ORANGE);ring(x,y,ewtOrange,ORANGE,SZ);
}
// magnitude-time 2011~
{const g=addGrid(736,813,411,204),r={min:2011,max:2023.72},m={min:0.5,max:6},c={min:0,max:8580};
 const x=dataAxis(xAxes,g,r,'bottom',[2015,2020]),y=dataAxis(yAxes,g,m,'left');
 side(xAxes,g,r,'bottom',{ticks:yearLabels,len:10,labels:yearLabels,margin:20});
 side(xAxes,g,r,'bottom',{ticks:allYears,len:3,line:false});
 side(xAxes,g,r,'top',{ticks:[2015,2020],len:10});
 side(xAxes,g,r,'top',{ticks:allYears,len:3,line:false});
 side(yAxes,g,m,'left',{ticks:magnitudes,len:4,labels:magnitudes,size:16,margin:12});
 side(yAxes,g,m,'left',{ticks:minorMagnitudes,len:2,line:false});
 const yc=side(yAxes,g,c,'right',{ticks:countTicks2,len:4,labels:countTicks2,margin:14,size:14});
 stems(x,y,mt2Gray,'#C4C4C4',0.5,4.2);
 stems(x,y,mt2Purple,'#A350B0',0.5,4.2);
 stems(x,y,mt2Blue,'#0000F0',0.5,4.2);
 stems(x,y,mt2Green,GREEN,0.5,4.2);
 stems(x,y,mt2Dense,ORANGE,0.5,4.2);
 stems(x,y,mt2Orange,ORANGE,0.5,4.2);
 poly(x,y,mt2Solid,ORANGE);
 line(x,yc,mt2Cumulative,CUM,1.6,3);
}

// text annotations
function txt(x,y,s,size,o){o=o||{};gfx.push({type:'text',x:x,y:y,z:20,silent:true,style:{text:s,font:(size)+'px '+(o.font||CJK),fill:o.color||TXT,align:o.align||'left',verticalAlign:'middle'}});}
txt(197,38,'震央分布図',20.5);txt(317,41,'（M≧0.5）',16);
txt(528,38,'南北断面図',20.5);
txt(818,38,'時空間分布図（南北断面）',20);txt(1060,43,'（2020年４月20日～）',16);
txt(198,468,'東西断面図',20.5);
txt(798,468,'地震活動経過図及び回数積算図',20.5);txt(1090,468,'（2020年４月20日～）',16);
txt(187,768,'東西時空間図',20.5);txt(317,768,'（2020年４月20日～）',16);
txt(796,782,'地震活動経過図及び回数積算図',20.5);
txt(461,76,'北',15,{align:'center'});txt(461,400,'南',15,{align:'center'});
txt(88,487,'西',15,{align:'center'});txt(409,487,'東',15,{align:'center'});
txt(476,441,'km',12,{font:MONO,align:'center'});txt(57,482,'km',12,{font:MONO,align:'center'});
txt(1165,430,'年／月',14);txt(1165,728,'年／月',14);txt(30,782,'年／月',14);txt(1163,1041,'年',14);
txt(714,483,'M',14,{font:'"Liberation Sans"',align:'center'});txt(714,796,'M',14,{font:'"Liberation Sans"',align:'center'});
txt(1168,483,'回',14,{align:'center'});txt(1168,797,'回',14,{align:'center'});
txt(473,477,'山頂付近の地震の',17.5,{color:'#F00000'});txt(473,502,'震源分布図の範囲',17.5,{color:'#F00000'});
gfx.push({type:'line',z:20,silent:true,shape:{x1:328,y1:347,x2:460,y2:478},style:{stroke:'#E8202A',lineWidth:1.6}});
// scale bar
gfx.push({type:'rect',z:20,silent:true,shape:{x:93,y:22,width:91,height:8},style:{fill:'#000'}});
[[113,16],[148,17]].forEach(a=>gfx.push({type:'rect',z:21,silent:true,shape:{x:a[0],y:24,width:a[1],height:3},style:{fill:'#fff'}}));
[[94,34],[112,31],[130,31],[148,31],[166,31],[184,34]].forEach(a=>gfx.push({type:'line',z:20,silent:true,shape:{x1:a[0],y1:28,x2:a[0],y2:a[1]},style:{stroke:'#000',lineWidth:1.4}}));
txt(139,14,'km',12,{font:MONO,align:'center'});txt(93,49,'0',15,{font:MONO,align:'center'});txt(183,49,'5',15,{font:MONO,align:'center'});
// north arrow
txt(403,78,'N',13,{font:MONO,align:'center'});
gfx.push({type:'line',z:20,silent:true,shape:{x1:403,y1:92,x2:403,y2:145},style:{stroke:'#000',lineWidth:3}});
gfx.push({type:'line',z:20,silent:true,shape:{x1:394,y1:118,x2:412,y2:118},style:{stroke:'#000',lineWidth:3}});
gfx.push({type:'polygon',z:20,silent:true,shape:{points:[[403,86],[397,96],[409,96]]},style:{fill:'#000'}});
// legend
legendRows.forEach((r,i)=>{const y=1088+i*32;
  gfx.push({type:'circle',z:20,silent:true,shape:{cx:645,cy:y,r:8.5},style:{fill:'#fff',stroke:r[0],lineWidth:3}});
  txt(665,y,':',20);txt(681,y,r[1],23.4,{color:'#111'});});

echarts.init(document.getElementById('c'),null,{renderer:'canvas'}).setOption({
  animation:false,backgroundColor:'#fff',tooltip:{show:false},
  grid:grids,xAxis:xAxes,yAxis:yAxes,series:series,graphic:{elements:gfx}
});
</script></body></html>
